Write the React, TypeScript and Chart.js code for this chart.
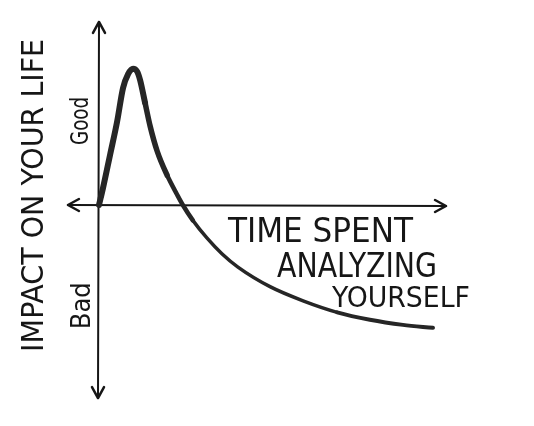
import React, { useEffect, useRef } from "react";
import { Chart, registerables } from "chart.js";

Chart.register(...registerables);

// Time spent analyzing yourself (arbitrary units)
const TIME = [0, 0.12, 0.33, 0.54, 0.72, 0.87, 1.02, 1.14, 1.23, 1.38, 1.53, 1.74, 2.04, 2.34, 2.51, 2.81, 3.23, 3.68, 4.16, 5.12, 6.11, 7.13, 8.11, 9.1, 10];
// Impact on your life (arbitrary units, + good / - bad)
const IMPACT = [0, 1.26, 3.7, 6.15, 8.67, 9.7, 10.1, 9.9, 9.26, 7.56, 5.85, 4.0, 2.2, 0.76, 0, -1.14, -2.44, -3.61, -4.6, -6.05, -7.1, -7.95, -8.5, -8.88, -9.1];

// Extent of the drawn axes (data units)
const X_AXIS_ENDS = [-0.93, 10.39];
const Y_AXIS_ENDS = [-14.3, 13.56];

// Texts
const Y_TITLE = "IMPACT ON YOUR LIFE";
const Y_TICK_LABELS = ["Good", "Bad"];
const X_TITLE_LINES = ["TIME SPENT", "ANALYZING", "YOURSELF"];

const FONT = "'Liberation Sans Narrow', 'DejaVu Sans Condensed', 'Liberation Sans', sans-serif";
const INK = "#161616";

function fitText(
  ctx: CanvasRenderingContext2D,
  text: string,
  x: number,
  y: number,
  width: number,
  size: number,
  angle: number
) {
  ctx.save();
  ctx.translate(x, y);
  ctx.rotate(angle);
  ctx.font = `${size}px ${FONT}`;
  ctx.textAlign = "left";
  ctx.textBaseline = "alphabetic";
  const w = ctx.measureText(text).width;
  ctx.scale(width / w, 1);
  ctx.fillText(text, 0, 0);
  ctx.restore();
}

function arrowHead(ctx: CanvasRenderingContext2D, tx: number, ty: number, dx: number, dy: number) {
  const len = 11;
  const half = 6;
  const bx = tx - dx * len;
  const by = ty - dy * len;
  const px = -dy;
  const py = dx;
  ctx.beginPath();
  ctx.moveTo(bx + px * half, by + py * half);
  ctx.lineTo(tx, ty);
  ctx.lineTo(bx - px * half, by - py * half);
  ctx.stroke();
}

const sketchPlugin = {
  id: "sketch",
  beforeDatasetsDraw(chart: any) {
    const ctx: CanvasRenderingContext2D = chart.ctx;
    const xs = chart.scales.x;
    const ys = chart.scales.y;
    const x0 = xs.getPixelForValue(0);
    const y0 = ys.getPixelForValue(0);
    const xl = xs.getPixelForValue(X_AXIS_ENDS[0]);
    const xr = xs.getPixelForValue(X_AXIS_ENDS[1]);
    const yt = ys.getPixelForValue(Y_AXIS_ENDS[1]);
    const yb = ys.getPixelForValue(Y_AXIS_ENDS[0]);
    ctx.save();
    ctx.strokeStyle = INK;
    ctx.lineWidth = 2;
    ctx.lineCap = "round";
    ctx.lineJoin = "round";
    ctx.beginPath();
    ctx.moveTo(xl, y0);
    ctx.lineTo(xr, y0 + 1);
    ctx.moveTo(x0, yt);
    ctx.lineTo(x0 - 1, yb);
    ctx.stroke();
    ctx.lineWidth = 2.5;
    arrowHead(ctx, xr, y0 + 1, 1, 0);
    arrowHead(ctx, xl, y0, -1, 0);
    arrowHead(ctx, x0, yt, 0, -1);
    arrowHead(ctx, x0 - 1, yb, 0, 1);

    ctx.fillStyle = INK;
    // y title, rotated
    fitText(ctx, Y_TITLE, x0 - 56, ys.getPixelForValue(-10.88), 313, 30, -Math.PI / 2);
    // Good / Bad
    fitText(ctx, Y_TICK_LABELS[0], x0 - 11, ys.getPixelForValue(4.45), 48, 25, -Math.PI / 2);
    fitText(ctx, Y_TICK_LABELS[1], x0 - 9, ys.getPixelForValue(-9.2), 47, 26, -Math.PI / 2);
    // x title lines
    const xt0 = xs.getPixelForValue(0);
    fitText(ctx, X_TITLE_LINES[0], xt0 + 129, y0 + 37, 185, 34, 0);
    fitText(ctx, X_TITLE_LINES[1], xt0 + 178, y0 + 72, 160, 33, 0);
    fitText(ctx, X_TITLE_LINES[2], xt0 + 233, y0 + 102, 138, 29, 0);
    ctx.restore();
  },
};

export default function App() {
  const ref = useRef<HTMLCanvasElement>(null);
  useEffect(() => {
    const canvas = ref.current!;
    const chart = new Chart(canvas, {
      type: "line",
      data: {
        datasets: [
          {
            data: TIME.map((t, i) => ({ x: t, y: IMPACT[i] })),
            borderColor: "#262626",
            borderWidth: 4,
            pointRadius: 0,
            cubicInterpolationMode: "monotone",
            borderCapStyle: "round",
            borderJoinStyle: "round",
            segment: {
              borderWidth: (c: any) => {
                const x = c.p0.parsed.x;
                if (x < 1.3) return 6;
                if (x < 1.8) return 5.5;
                if (x < 2.6) return 4.5;
                if (x > 6.5 && x < 9.5) return 4;
                return 3.5;
              },
            },
            fill: false,
          } as any,
        ],
      },
      options: {
        responsive: false,
        animation: false,
        devicePixelRatio: 1,
        layout: { padding: 0 },
        scales: {
          x: { type: "linear", display: false, min: -2.964, max: 13.024 },
          y: { type: "linear", display: false, min: -16.37, max: 15.185 },
        },
        plugins: {
          legend: { display: false },
          tooltip: { enabled: false },
          title: { display: false },
        },
      },
      plugins: [sketchPlugin],
    });
    return () => chart.destroy();
  }, []);
  return (
    <div style={{ position: "fixed", left: 0, top: 0, width: 534, height: 426, background: "#fff" }}>
      <canvas ref={ref} width={534} height={426} style={{ display: "block" }} />
    </div>
  );
}
